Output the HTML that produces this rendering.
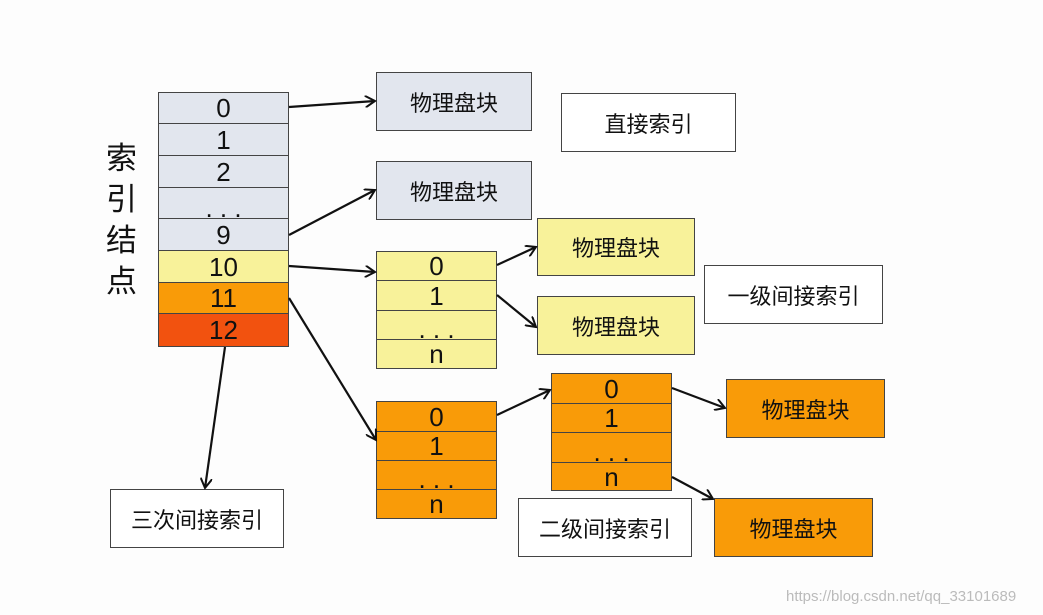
<!DOCTYPE html><html><head><meta charset="utf-8"><style>
body{margin:0;width:1043px;height:615px;background:#fdfdfd;overflow:hidden;position:relative;font-family:"Liberation Sans","Noto Sans CJK SC",sans-serif}
.b{position:absolute;box-sizing:border-box;border:1.5px solid #444;display:flex;align-items:center;justify-content:center;font-size:22px;color:#111}
.r{position:absolute;box-sizing:border-box;border:1px solid #444;display:flex;align-items:center;justify-content:center;font-size:26px;color:#111;line-height:1}
</style></head><body>
<div style="position:absolute;left:106px;top:135px;font-size:31px;line-height:41px;width:34px;color:#111;font-family:'Noto Sans CJK SC',sans-serif">索<br>引<br>结<br>点</div>
<div class="r" style="left:158px;top:92px;width:131px;height:32px;background:#e2e6ee">0</div>
<div class="r" style="left:158px;top:123px;width:131px;height:33px;background:#e2e6ee">1</div>
<div class="r" style="left:158px;top:155px;width:131px;height:33px;background:#e2e6ee">2</div>
<div class="r" style="left:158px;top:187px;width:131px;height:32px;background:#e2e6ee;padding-top:10px">. . .</div>
<div class="r" style="left:158px;top:218px;width:131px;height:33px;background:#e2e6ee">9</div>
<div class="r" style="left:158px;top:250px;width:131px;height:33px;background:#f8f29a">10</div>
<div class="r" style="left:158px;top:282px;width:131px;height:32px;background:#f99b08">11</div>
<div class="r" style="left:158px;top:313px;width:131px;height:34px;background:#f2520f">12</div>

<div class="b" style="left:376px;top:72px;width:156px;height:59px;background:#e2e6ee">物理盘块</div>
<div class="b" style="left:376px;top:161px;width:156px;height:59px;background:#e2e6ee">物理盘块</div>
<div class="b" style="left:561px;top:93px;width:175px;height:59px;background:#fff">直接索引</div>

<div class="r" style="left:376px;top:251px;width:121px;height:30px;background:#f8f29a">0</div>
<div class="r" style="left:376px;top:280px;width:121px;height:31px;background:#f8f29a">1</div>
<div class="r" style="left:376px;top:310px;width:121px;height:30px;background:#f8f29a;padding-top:8px">. . .</div>
<div class="r" style="left:376px;top:339px;width:121px;height:30px;background:#f8f29a">n</div>
<div class="b" style="left:537px;top:218px;width:158px;height:58px;background:#f8f29a">物理盘块</div>
<div class="b" style="left:537px;top:296px;width:158px;height:59px;background:#f8f29a">物理盘块</div>
<div class="b" style="left:704px;top:265px;width:179px;height:59px;background:#fff">一级间接索引</div>

<div class="r" style="left:376px;top:401px;width:121px;height:31px;background:#f99b08">0</div>
<div class="r" style="left:376px;top:431px;width:121px;height:30px;background:#f99b08">1</div>
<div class="r" style="left:376px;top:460px;width:121px;height:30px;background:#f99b08;padding-top:8px">. . .</div>
<div class="r" style="left:376px;top:489px;width:121px;height:30px;background:#f99b08">n</div>

<div class="r" style="left:551px;top:373px;width:121px;height:31px;background:#f99b08">0</div>
<div class="r" style="left:551px;top:403px;width:121px;height:30px;background:#f99b08">1</div>
<div class="r" style="left:551px;top:432px;width:121px;height:31px;background:#f99b08;padding-top:8px">. . .</div>
<div class="r" style="left:551px;top:462px;width:121px;height:29px;background:#f99b08">n</div>
<div class="b" style="left:726px;top:379px;width:159px;height:59px;background:#f99b08">物理盘块</div>
<div class="b" style="left:714px;top:498px;width:159px;height:59px;background:#f99b08">物理盘块</div>
<div class="b" style="left:518px;top:498px;width:174px;height:59px;background:#fff">二级间接索引</div>
<div class="b" style="left:110px;top:489px;width:174px;height:59px;background:#fff">三次间接索引</div>

<svg width="1043" height="615" style="position:absolute;left:0;top:0">
<defs><marker id="a" markerWidth="12" markerHeight="12" refX="10" refY="6" orient="auto" markerUnits="userSpaceOnUse"><path d="M0,0 L10,6 L0,12" fill="none" stroke="#111" stroke-width="2"/></marker></defs>
<g stroke="#111" stroke-width="2.2" marker-end="url(#a)">
<line x1="289" y1="107" x2="375" y2="101"/>
<line x1="289" y1="235" x2="375" y2="190"/>
<line x1="289" y1="266" x2="375" y2="272"/>
<line x1="289" y1="298" x2="376" y2="440"/>
<line x1="497" y1="265" x2="536" y2="247"/>
<line x1="497" y1="295" x2="536" y2="327"/>
<line x1="497" y1="415" x2="550" y2="390"/>
<line x1="672" y1="388" x2="725" y2="408"/>
<line x1="672" y1="477" x2="713" y2="499"/>
<line x1="225" y1="347" x2="205" y2="488"/>
</g></svg>
<div style="position:absolute;left:786px;top:588px;font-size:15px;color:#bbb">https://blog.csdn.net/qq_33101689</div>
</body></html>
